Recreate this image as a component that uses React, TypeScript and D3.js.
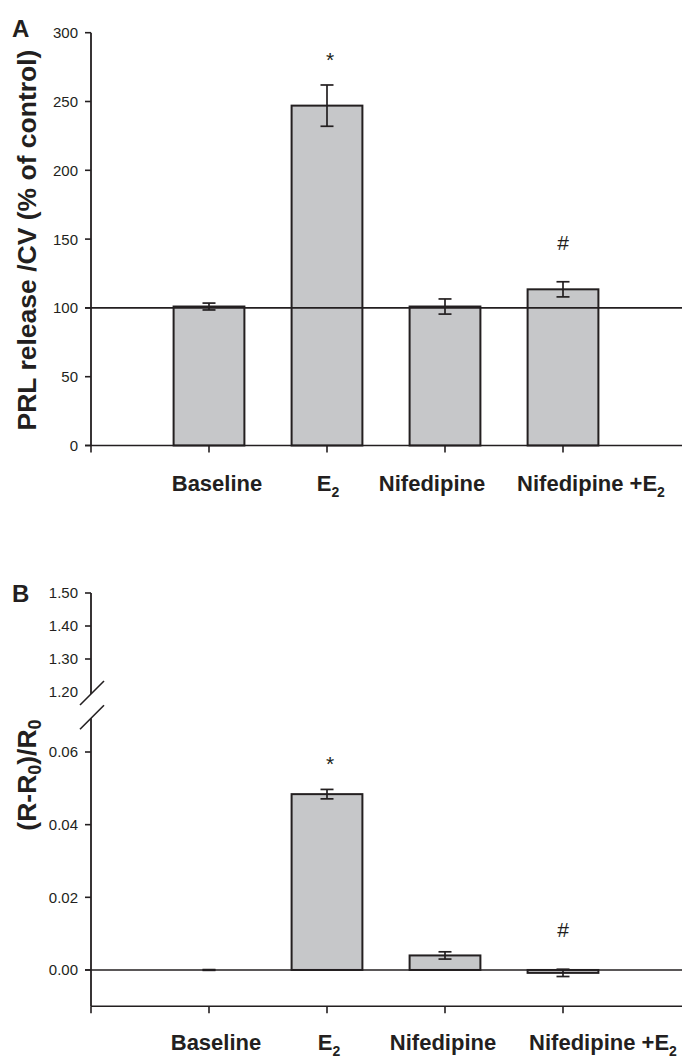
import React from 'react'
import * as d3 from 'd3'

const categories = ['Baseline', 'E', 'Nifedipine', 'Nifedipine +E']
const categorySubs = ['', '2', '', '2']

const prlMean = [101, 247, 101, 113.5]
const prlErr = [2.5, 15, 5.5, 5.5]
const prlMarks = ['', '*', '', '#']
const prlTicks = [0, 50, 100, 150, 200, 250, 300]

const ratioMean = [0, 0.0484, 0.004, -0.0008]
const ratioErr = [0.0001, 0.0013, 0.001, 0.001]
const ratioMarks = ['', '*', '', '#']
const ratioTicks = [0, 0.02, 0.04, 0.06]
const ratioUpperTicks = [1.2, 1.3, 1.4, 1.5]

const W = 682,
  H = 1060,
  ink = '#231f20',
  barFill = '#c6c7c9',
  font = "'Liberation Sans', Arial, Helvetica, sans-serif"

const x = d3.scaleLinear().domain([0, 5]).range([91, 681])
const barW = (x(1) - x(0)) * 0.6

const yA = d3.scaleLinear().domain([0, 300]).range([445.5, 32.7])
const yB = d3.scaleLinear().domain([-0.01, 0.06]).range([1006.3, 752])
const yBUp = d3.scaleLinear().domain([1.2, 1.5]).range([692, 593])

// label nudges, the original labels are not centred on the ticks
const labelShiftA = [8, 1, -13, 28]
const labelShiftB = [7, 2, -2, 40]

function Bars({ means, errs, marks, y, base }) {
  return (
    <g>
      {means.map((v, i) => {
        const cx = x(i + 1)
        const top = y(Math.max(v, base)),
          bot = y(Math.min(v, base))
        const eTop = y(v + errs[i]),
          eBot = y(v - errs[i])
        return (
          <g key={i}>
            <rect
              x={cx - barW / 2}
              y={top}
              width={barW}
              height={bot - top}
              fill={barFill}
              stroke={ink}
              strokeWidth={2}
            />
            <line x1={cx} x2={cx} y1={eTop} y2={eBot} stroke={ink} strokeWidth={1.7} />
            <line x1={cx - 6.5} x2={cx + 6.5} y1={eTop} y2={eTop} stroke={ink} strokeWidth={1.7} />
            <line x1={cx - 6.5} x2={cx + 6.5} y1={eBot} y2={eBot} stroke={ink} strokeWidth={1.7} />
            {marks[i] && (
              <text
                x={cx + (marks[i] === '*' ? 3 : 0)}
                y={eTop - (marks[i] === '*' ? 18 : 32)}
                textAnchor='middle'
                fontSize={21}
                fill={ink}>
                {marks[i]}
              </text>
            )}
          </g>
        )
      })}
    </g>
  )
}

function XAxis({ yPos, labelY, shifts, startX }) {
  return (
    <g>
      <line x1={startX} x2={W} y1={yPos} y2={yPos} stroke={ink} strokeWidth={1.6} />
      {d3.range(0, 5).map(i => (
        <line key={i} x1={x(i)} x2={x(i)} y1={yPos} y2={yPos + 7} stroke={ink} strokeWidth={1.6} />
      ))}
      {categories.map((c, i) => (
        <text
          key={c}
          x={x(i + 1) + shifts[i]}
          y={labelY}
          textAnchor='middle'
          fontSize={22}
          fontWeight='bold'
          fill={ink}>
          {c}
          {categorySubs[i] && (
            <tspan fontSize={14} dy={6}>
              {categorySubs[i]}
            </tspan>
          )}
        </text>
      ))}
    </g>
  )
}

function YTicks({ ticks, y, fmt }) {
  return (
    <g>
      {ticks.map(t => (
        <g key={t}>
          <line x1={85} x2={91} y1={y(t)} y2={y(t)} stroke={ink} strokeWidth={1.6} />
          <text x={78} y={y(t)} dy='0.36em' textAnchor='end' fontSize={15} fill={ink}>
            {fmt(t)}
          </text>
        </g>
      ))}
    </g>
  )
}

export default function App() {
  const ax = x(0)
  const lowTop = yB(0.0693)
  const upBot = yBUp(1.194)
  return (
    <svg
      width={W}
      height={H}
      style={{ position: 'absolute', left: 0, top: 0, background: '#fff' }}
      fontFamily={font}>
      {/* panel A */}
      <text x={12} y={37} fontSize={24} fontWeight='bold' fill={ink}>
        A
      </text>
      <text
        transform={`translate(36,240) rotate(-90)`}
        textAnchor='middle'
        fontSize={26.5}
        fontWeight='bold'
        fill={ink}>
        PRL release /CV (% of control)
      </text>
      <Bars means={prlMean} errs={prlErr} marks={prlMarks} y={yA} base={0} />
      <line x1={ax} x2={ax} y1={yA(300)} y2={yA(0)} stroke={ink} strokeWidth={1.8} />
      <YTicks ticks={prlTicks} y={yA} fmt={d3.format('d')} />
      <line x1={85} x2={W} y1={yA(100)} y2={yA(100)} stroke={ink} strokeWidth={1.6} />
      <XAxis yPos={yA(0)} labelY={491} shifts={labelShiftA} startX={85} />

      {/* panel B */}
      <text x={12} y={602} fontSize={24} fontWeight='bold' fill={ink}>
        B
      </text>
      <text
        transform={`translate(36,775) rotate(-90)`}
        textAnchor='middle'
        fontSize={26.5}
        fontWeight='bold'
        fill={ink}>
        (R-R<tspan fontSize={18} dy={5}>0</tspan>
        <tspan dy={-5}>)/R</tspan>
        <tspan fontSize={18} dy={5}>0</tspan>
      </text>
      <Bars means={ratioMean} errs={ratioErr} marks={ratioMarks} y={yB} base={0} />
      <line x1={ax} x2={ax} y1={yBUp(1.5)} y2={upBot} stroke={ink} strokeWidth={1.8} />
      <line x1={ax} x2={ax} y1={lowTop} y2={yB(-0.01)} stroke={ink} strokeWidth={1.8} />
      <line x1={ax - 11} x2={ax + 13} y1={upBot + 11} y2={upBot - 13} stroke={ink} strokeWidth={1.6} />
      <line x1={ax - 11} x2={ax + 13} y1={lowTop + 11} y2={lowTop - 13} stroke={ink} strokeWidth={1.6} />
      <YTicks ticks={ratioUpperTicks.slice(1)} y={yBUp} fmt={d3.format('.2f')} />
      <text x={78} y={yBUp(1.2)} dy='0.36em' textAnchor='end' fontSize={15} fill={ink}>
        {d3.format('.2f')(1.2)}
      </text>
      <YTicks ticks={ratioTicks} y={yB} fmt={d3.format('.2f')} />
      <line x1={85} x2={W} y1={yB(0)} y2={yB(0)} stroke={ink} strokeWidth={1.6} />
      <XAxis yPos={yB(-0.01)} labelY={1050} shifts={labelShiftB} startX={ax} />
    </svg>
  )
}
